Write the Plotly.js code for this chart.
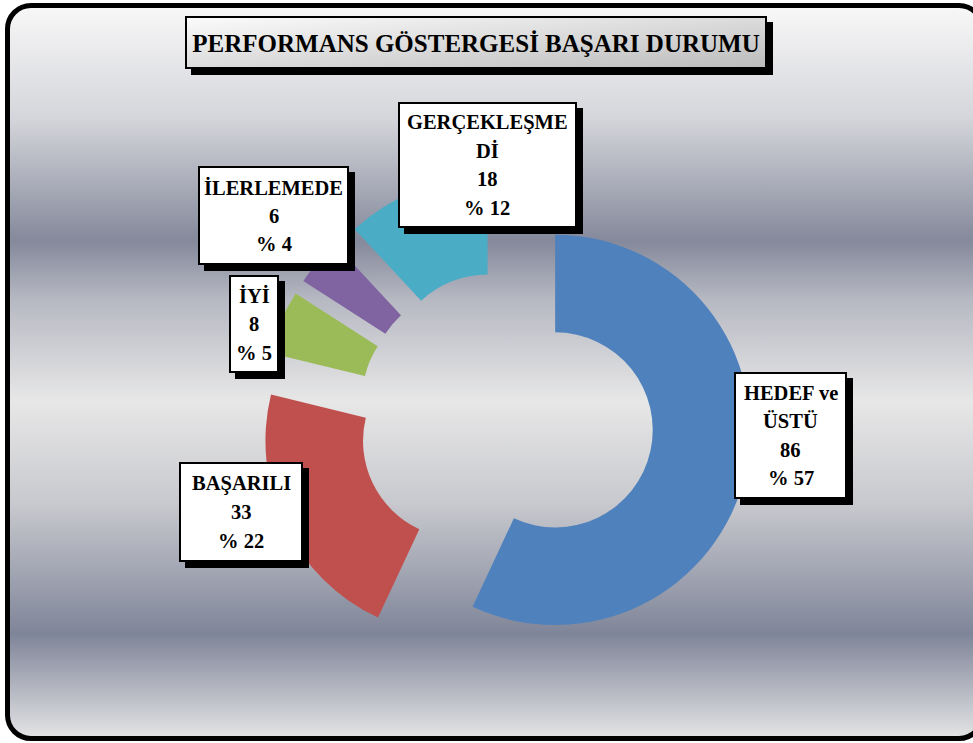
<!DOCTYPE html>
<html>
<head>
<meta charset="utf-8">
<script src="https://cdn.plot.ly/plotly-3.0.1.min.js"></script>
<style>
html,body{margin:0;padding:0;background:#fff;overflow:hidden;width:973px;height:743px;}
#frame{position:absolute;left:5px;top:3px;width:980px;height:738px;box-sizing:border-box;border:5px solid #000;border-radius:26px;
background:linear-gradient(to bottom,#f7f7f7 0%,#d5d6db 15%,#84899b 32%,#b6b8c2 40%,#e7e7e7 54%,#c8c9ce 68%,#7f8599 86%,#e2e2e4 100%);}
#tbox{position:absolute;left:185px;top:16px;width:582px;height:53px;box-sizing:border-box;border:2px solid #000;
background:linear-gradient(to bottom right,#fbfbfb,#bcbcbc);box-shadow:6px 6px 0 #000;}
#chart{position:absolute;left:0;top:0;width:973px;height:743px;}
</style>
</head>
<body>
<div id="frame"></div>
<div id="tbox"></div>
<div id="chart"></div>
<script>
// ---- data ----
var categories = ['HEDEF ve ÜSTÜ', 'BAŞARILI', 'İYİ', 'İLERLEMEDE', 'GERÇEKLEŞMEDİ'];
var values = [86, 33, 8, 6, 18];
var labelLines = [['HEDEF ve', 'ÜSTÜ'], ['BAŞARILI'], ['İYİ'], ['İLERLEMEDE'], ['GERÇEKLEŞME', 'Dİ']];
var chartTitle = 'PERFORMANS GÖSTERGESİ BAŞARI DURUMU';

// ---- style / layout ----
var colors = ['#4F81BD', '#C0504D', '#9BBB59', '#8064A2', '#4BACC6'];
var W = 973, H = 743;
// label boxes in pixels [x0, y0, x1, y1]
var boxes = [
  [734, 372, 847, 499],
  [179, 462, 303, 562],
  [229, 275, 279, 373],
  [198, 166, 349, 265],
  [398, 102, 577, 228]
];
var shadowOff = 6;
var lineGap = 28.5;
var fontFam = '"Liberation Serif", "Times New Roman", serif';

function px(x) { return x / W; }
function py(y) { return 1 - y / H; }

var total = values.reduce(function (a, b) { return a + b; }, 0);

var cx = 506, cy = 419, half = 245.5;
var trace = {
  type: 'pie',
  labels: categories,
  values: values,
  hole: 0.5,
  pull: 0.258,
  sort: false,
  direction: 'clockwise',
  rotation: 0,
  marker: { colors: colors, line: { width: 0 } },
  textinfo: 'none',
  hoverinfo: 'none',
  showlegend: false,
  domain: { x: [px(cx - half), px(cx + half)], y: [py(cy + half), py(cy - half)] }
};

var shapes = [];
var annotations = [];
boxes.forEach(function (b, i) {
  shapes.push({ type: 'rect', xref: 'paper', yref: 'paper', layer: 'above',
    x0: px(b[0] + shadowOff), x1: px(b[2] + shadowOff), y0: py(b[1] + shadowOff), y1: py(b[3] + shadowOff),
    fillcolor: '#000', line: { width: 0 } });
  shapes.push({ type: 'rect', xref: 'paper', yref: 'paper', layer: 'above',
    x0: px(b[0] + 1), x1: px(b[2] - 1), y0: py(b[1] + 1), y1: py(b[3] - 1),
    fillcolor: '#fff', line: { color: '#000', width: 2 } });
  var lines = labelLines[i].concat([String(values[i]), '% ' + Math.round(values[i] / total * 100)]);
  var bx = (b[0] + b[2]) / 2, by = (b[1] + b[3]) / 2;
  lines.forEach(function (t, j) {
    annotations.push({ xref: 'paper', yref: 'paper', showarrow: false,
      x: px(bx), y: py(by + (j - (lines.length - 1) / 2) * lineGap),
      xanchor: 'center', yanchor: 'middle',
      text: '<b>' + t + '</b>',
      font: { family: fontFam, size: 20.5, color: '#000' } });
  });
});

var layout = {
  width: W, height: H,
  margin: { l: 0, r: 0, t: 0, b: 0 },
  paper_bgcolor: 'rgba(0,0,0,0)',
  plot_bgcolor: 'rgba(0,0,0,0)',
  title: { text: '<b>' + chartTitle + '</b>', font: { family: fontFam, size: 25, color: '#000' },
    x: px(476), xref: 'paper', xanchor: 'center', y: py(43), yref: 'container', yanchor: 'middle' },
  shapes: shapes,
  annotations: annotations
};

Plotly.newPlot('chart', [trace], layout, { displayModeBar: false, staticPlot: true });
</script>
</body>
</html>
